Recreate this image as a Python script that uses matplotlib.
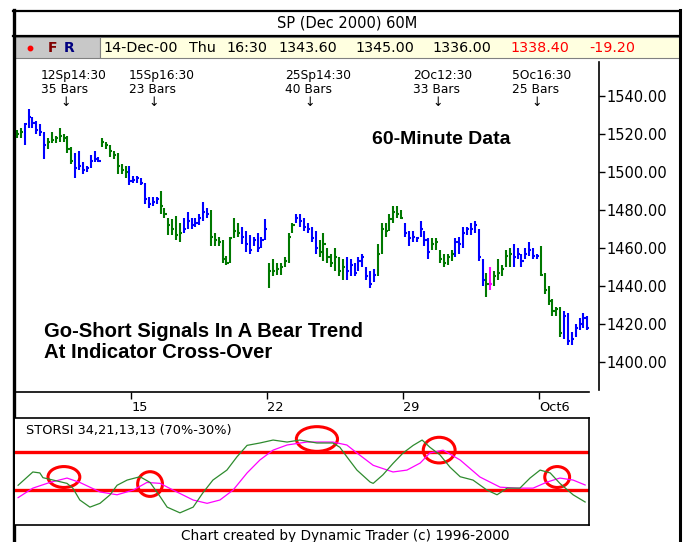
import matplotlib
matplotlib.use("Agg")
import matplotlib.pyplot as plt
from matplotlib.patches import Ellipse, Rectangle
from matplotlib.lines import Line2D
from matplotlib.transforms import blended_transform_factory

W, H = 686, 542

# 60-minute bars, SP Dec 2000 (high / low / close)
bar_high = [1522, 1523, 1526, 1533, 1529, 1527, 1525, 1521, 1518, 1521,
            1519, 1523, 1520, 1519, 1513, 1510, 1511, 1505, 1503, 1509,
            1511, 1508, 1518, 1516, 1514, 1511, 1510, 1504, 1503, 1503,
            1498, 1498, 1497, 1494, 1487, 1487, 1487, 1490, 1481, 1476,
            1475, 1477, 1473, 1476, 1479, 1476, 1476, 1478, 1484, 1481,
            1480, 1468, 1466, 1464, 1456, 1466, 1476, 1473, 1471, 1469,
            1467, 1466, 1468, 1466, 1475, 1452, 1454, 1452, 1452, 1455,
            1468, 1473, 1478, 1478, 1476, 1473, 1471, 1469, 1464, 1468,
            1460, 1457, 1460, 1455, 1454, 1455, 1454, 1452, 1455, 1457,
            1450, 1448, 1449, 1462, 1473, 1473, 1478, 1482, 1482, 1480,
            1473, 1469, 1469, 1466, 1474, 1469, 1465, 1465, 1465, 1459,
            1457, 1457, 1459, 1465, 1466, 1471, 1471, 1473, 1474, 1470,
            1454, 1447, 1450, 1448, 1454, 1451, 1459, 1460, 1462, 1460,
            1457, 1460, 1463, 1460, 1457, 1461, 1447, 1440, 1433, 1429,
            1429, 1427, 1426, 1416, 1420, 1423, 1426, 1424]
bar_low = [1518, 1518, 1514, 1523, 1523, 1520, 1519, 1507, 1512, 1515,
           1515, 1516, 1516, 1510, 1504, 1497, 1501, 1499, 1500, 1502,
           1505, 1505, 1513, 1512, 1508, 1507, 1499, 1499, 1497, 1493,
           1494, 1494, 1493, 1483, 1481, 1482, 1483, 1478, 1476, 1467,
           1467, 1464, 1463, 1468, 1470, 1470, 1471, 1472, 1474, 1476,
           1461, 1461, 1461, 1452, 1451, 1452, 1465, 1466, 1462, 1458,
           1457, 1461, 1458, 1460, 1464, 1439, 1445, 1446, 1446, 1450,
           1452, 1468, 1473, 1471, 1469, 1468, 1463, 1457, 1455, 1453,
           1452, 1450, 1448, 1445, 1443, 1443, 1445, 1445, 1448, 1450,
           1443, 1439, 1442, 1445, 1457, 1466, 1469, 1473, 1476, 1475,
           1466, 1461, 1463, 1463, 1466, 1461, 1454, 1459, 1459, 1452,
           1450, 1451, 1453, 1455, 1457, 1460, 1467, 1467, 1468, 1453,
           1440, 1434, 1438, 1440, 1443, 1445, 1450, 1450, 1450, 1454,
           1450, 1454, 1456, 1454, 1454, 1445, 1436, 1430, 1424, 1424,
           1413, 1412, 1409, 1409, 1413, 1417, 1418, 1417]
bar_close = [1520, 1521, 1525, 1529, 1526, 1522, 1521, 1514, 1516, 1517,
             1518, 1519, 1518, 1512, 1506, 1502, 1503, 1501, 1502, 1506,
             1507, 1506, 1516, 1514, 1511, 1509, 1503, 1501, 1500, 1495,
             1496, 1497, 1494, 1486, 1483, 1484, 1486, 1482, 1478, 1472,
             1470, 1467, 1468, 1470, 1474, 1472, 1473, 1476, 1479, 1478,
             1466, 1464, 1463, 1454, 1452, 1465, 1469, 1468, 1466, 1462,
             1459, 1464, 1460, 1464, 1470, 1448, 1448, 1449, 1450, 1453,
             1466, 1472, 1476, 1474, 1471, 1470, 1465, 1460, 1458, 1462,
             1455, 1452, 1455, 1448, 1450, 1448, 1451, 1447, 1453, 1455,
             1445, 1441, 1446, 1457, 1470, 1469, 1475, 1479, 1478, 1476,
             1468, 1465, 1466, 1465, 1470, 1464, 1458, 1462, 1463, 1454,
             1452, 1455, 1457, 1463, 1462, 1468, 1470, 1470, 1472, 1455,
             1443, 1441, 1441, 1445, 1447, 1449, 1456, 1457, 1455, 1457,
             1453, 1457, 1459, 1456, 1456, 1446, 1438, 1432, 1427, 1428,
             1415, 1424, 1411, 1412, 1418, 1420, 1423, 1418]
# bar colour runs (g = green, b = blue, m = magenta)
color_runs = [("g", 2), ("b", 6), ("g", 7), ("b", 7), ("g", 7), ("b", 8),
              ("g", 6), ("b", 7), ("g", 8), ("b", 7), ("g", 7), ("b", 6),
              ("g", 7), ("b", 8), ("g", 7), ("b", 7), ("g", 6), ("b", 8),
              ("g", 1), ("m", 1), ("g", 5), ("b", 7), ("g", 6), ("b", 7)]

price_ticks = [1400, 1420, 1440, 1460, 1480, 1500, 1520, 1540]
date_tick_pos = [29.5, 64.5, 99.5, 134.5]
date_tick_labels = ["15", "22", "29", "Oct6"]

signal_pos = [12.5, 35.3, 75.5, 108.5, 134.0]
signal_time = ["12Sp14:30", "15Sp16:30", "25Sp14:30", "2Oc12:30", "5Oc16:30"]
signal_count = [35, 23, 40, 33, 25]

# STORSI 34,21,13,13 lines (bar position, value %)
fast_x = [0.3, 4.1, 5.9, 6.7, 9.3, 12.9, 14.4, 16.2, 18.8, 21.4, 24, 25.8,
          28.4, 31.7, 34.3, 36.9, 38.7, 42, 45.4, 47.9, 50.5, 54.1, 56.7,
          59.3, 62.6, 66, 69.6, 72.9, 77.3, 81.4, 83.2, 85, 87.6, 91, 91.8,
          94.3, 96.9, 99.5, 102.1, 104.4, 106.4, 109, 111.6, 114.2, 117.5,
          121.1, 123.7, 126.3, 129.6, 132.2, 134.8, 137.4, 139.9, 143.3, 146.4]
fast_val = [35, 49, 48, 43, 40.5, 37, 32, 19.5, 12, 16, 25, 35,
            40.5, 44, 38, 23, 12, 6, 12, 27, 40.5, 51, 65,
            77, 79.5, 82.6, 80.5, 82.6, 79.5, 79.5, 75, 65, 51, 38.4, 37,
            46, 58, 69, 77, 82.6, 75, 67, 54, 44, 40.5,
            30, 25, 32, 32, 42.6, 51, 48, 37, 25, 17.4]
slow_x = [0.3, 4.1, 8.5, 12.9, 16.2, 21.4, 25.8, 30, 33.5, 36.9, 40.2, 45.4,
          49, 52.3, 55.7, 59.3, 62.6, 66, 69.6, 74.7, 81.4, 85, 87.6, 91.8,
          96.9, 100.5, 103.9, 106.4, 109.8, 114.2, 119.3, 124.5, 128.9, 133,
          136.6, 139.9, 143.3, 146.4]
slow_val = [22, 32, 38, 42.6, 38, 28, 25, 30, 38, 37, 30, 19.5,
            16, 19.5, 30, 48, 61.6, 72, 77.4, 80.5, 80.5, 77.4, 69, 56,
            49, 51, 58.4, 69, 72, 61.6, 43.7, 33, 32, 32,
            38.4, 42.6, 40.5, 35.3]
upper_band, lower_band = 70, 30

# hand-drawn red circles marking cross-overs (centre bar, centre value)
circle_x = [12.1, 34.3, 77.3, 108.8, 139.2]
circle_y = [43.7, 36.3, 83.7, 72.0, 43.7]
circle_w = [8.2, 6.4, 10.6, 8.2, 6.4]
circle_h = [22, 26, 26, 27, 22]

quote_fields = ["14-Dec-00", "Thu", "16:30", "1343.60", "1345.00", "1336.00", "1338.40", "-19.20"]


def rect(x0, y0, x1, y1):
    return [x0 / W, 1 - y1 / H, (x1 - x0) / W, (y1 - y0) / H]


plt.rcParams["font.family"] = "DejaVu Sans"
fig = plt.figure(figsize=(W / 100, H / 100), dpi=100)
fig.patch.set_facecolor("white")

# ---- frame, title and quote bar (pixel coordinates) ----
ov = fig.add_axes([0, 0, 1, 1])
ov.set_xlim(0, W)
ov.set_ylim(H, 0)
ov.axis("off")
ov.add_patch(Rectangle((14, 37), 86, 21, facecolor="#c8c8c8", edgecolor="#808080", lw=0.8))
ov.add_patch(Rectangle((100, 37), 580, 21, facecolor="#ffffe0", edgecolor="#808080", lw=0.8))
for xs, ys, lw in [([13.5, 13.5], [10, H], 2.4), ([679.5, 679.5], [10, H], 2.2),
                   ([13, 680], [10.5, 10.5], 1.6), ([13, 680], [36, 36], 1.6)]:
    ov.add_line(Line2D(xs, ys, color="black", lw=lw))
ov.text(347, 23, "SP (Dec 2000) 60M", ha="center", va="center", fontsize=10.5)
ov.plot([30], [47.5], "o", color="red", ms=3.2)
ov.text(48, 47.5, "F", ha="left", va="center", fontsize=10, fontweight="bold", color="#800000")
ov.text(64, 47.5, "R", ha="left", va="center", fontsize=10, fontweight="bold", color="#000080")
quote_x = [103, 189, 226, 278, 355, 432, 510, 589]
for i, (qx, txt) in enumerate(zip(quote_x, quote_fields)):
    ov.text(qx, 47.5, txt, ha="left", va="center", fontsize=10.3,
            color="red" if i >= 6 else "black")
ov.text(345, 529, "Chart created by Dynamic Trader (c) 1996-2000",
        ha="center", va="top", fontsize=9.8)

# ---- price panel ----
ax = fig.add_axes(rect(15, 58, 599, 392))
ax.set_xlim(-0.5, 150)
ax.set_ylim(1384.2, 1560)
ax.patch.set_alpha(0)
palette = {"g": "#007800", "b": "#0000ff", "m": "#ff00ff"}
colors = [palette[c] for c, n in color_runs for _ in range(n)]
xs = list(range(len(bar_close)))
ax.vlines(xs, bar_low, bar_high, colors=colors, lw=1.5)
ax.hlines(bar_close, [x for x in xs], [x + 0.55 for x in xs], colors=colors, lw=1.5)

for s in ["left", "top"]:
    ax.spines[s].set_visible(False)
ax.spines["bottom"].set_bounds(-0.5, 147.4)
ax.spines["bottom"].set_linewidth(1.2)
ax.spines["right"].set_linewidth(1.2)
ax.spines["right"].set_bounds(1385, 1558)
ax.yaxis.tick_right()
ax.set_yticks(price_ticks)
ax.set_yticklabels([f"{p:.2f}" for p in price_ticks])
ax.tick_params(axis="y", direction="out", length=4, width=1, pad=1, labelsize=10.5)
ax.set_xticks(date_tick_pos)
ax.set_xticklabels(date_tick_labels)
ax.tick_params(axis="x", direction="out", length=5, width=1, pad=1.5, labelsize=9.3)
for lab in ax.get_xticklabels():
    lab.set_horizontalalignment("left")

tr = blended_transform_factory(ax.transData, ax.transAxes)
for pos, t, n in zip(signal_pos, signal_time, signal_count):
    ax.text(pos - 6.4, 0.947, t, transform=tr, ha="left", va="center", fontsize=8.8)
    ax.text(pos - 6.4, 0.905, f"{n} Bars", transform=tr, ha="left", va="center", fontsize=8.8)
    ax.text(pos, 0.866, "\u2193", transform=tr, ha="center", va="center", fontsize=9)

ax.text(0.612, 0.755, "60-Minute Data", transform=ax.transAxes, ha="left", va="center",
        fontsize=14, fontweight="bold", family="Liberation Sans")
ax.text(0.05, 0.15, "Go-Short Signals In A Bear Trend\nAt Indicator Cross-Over",
        transform=ax.transAxes, ha="left", va="center", fontsize=14.6, fontweight="bold",
        family="Liberation Sans", linespacing=1.15)

# ---- STORSI panel ----
ax2 = fig.add_axes(rect(15, 418, 589, 525))
ax2.set_xlim(-0.5, 147.4)
ax2.set_ylim(-6.8, 105.8)
ax2.set_xticks([])
ax2.set_yticks([])
for s in ax2.spines.values():
    s.set_linewidth(1.2)
ax2.spines["left"].set_visible(False)
ax2.axhline(upper_band, color="red", lw=2.4)
ax2.axhline(lower_band, color="red", lw=2.4)
ax2.plot(slow_x, slow_val, color="#ff00ff", lw=0.9)
ax2.plot(fast_x, fast_val, color="#2e8b2e", lw=0.9)
for cx, cy, cw, ch in zip(circle_x, circle_y, circle_w, circle_h):
    ax2.add_patch(Ellipse((cx, cy), cw, ch, fill=False, edgecolor="red", lw=2.2))
ax2.text(0.019, 0.88, "STORSI 34,21,13,13 (70%-30%)", transform=ax2.transAxes,
         ha="left", va="center", fontsize=9.3)

fig.savefig("out.png", dpi=100)
